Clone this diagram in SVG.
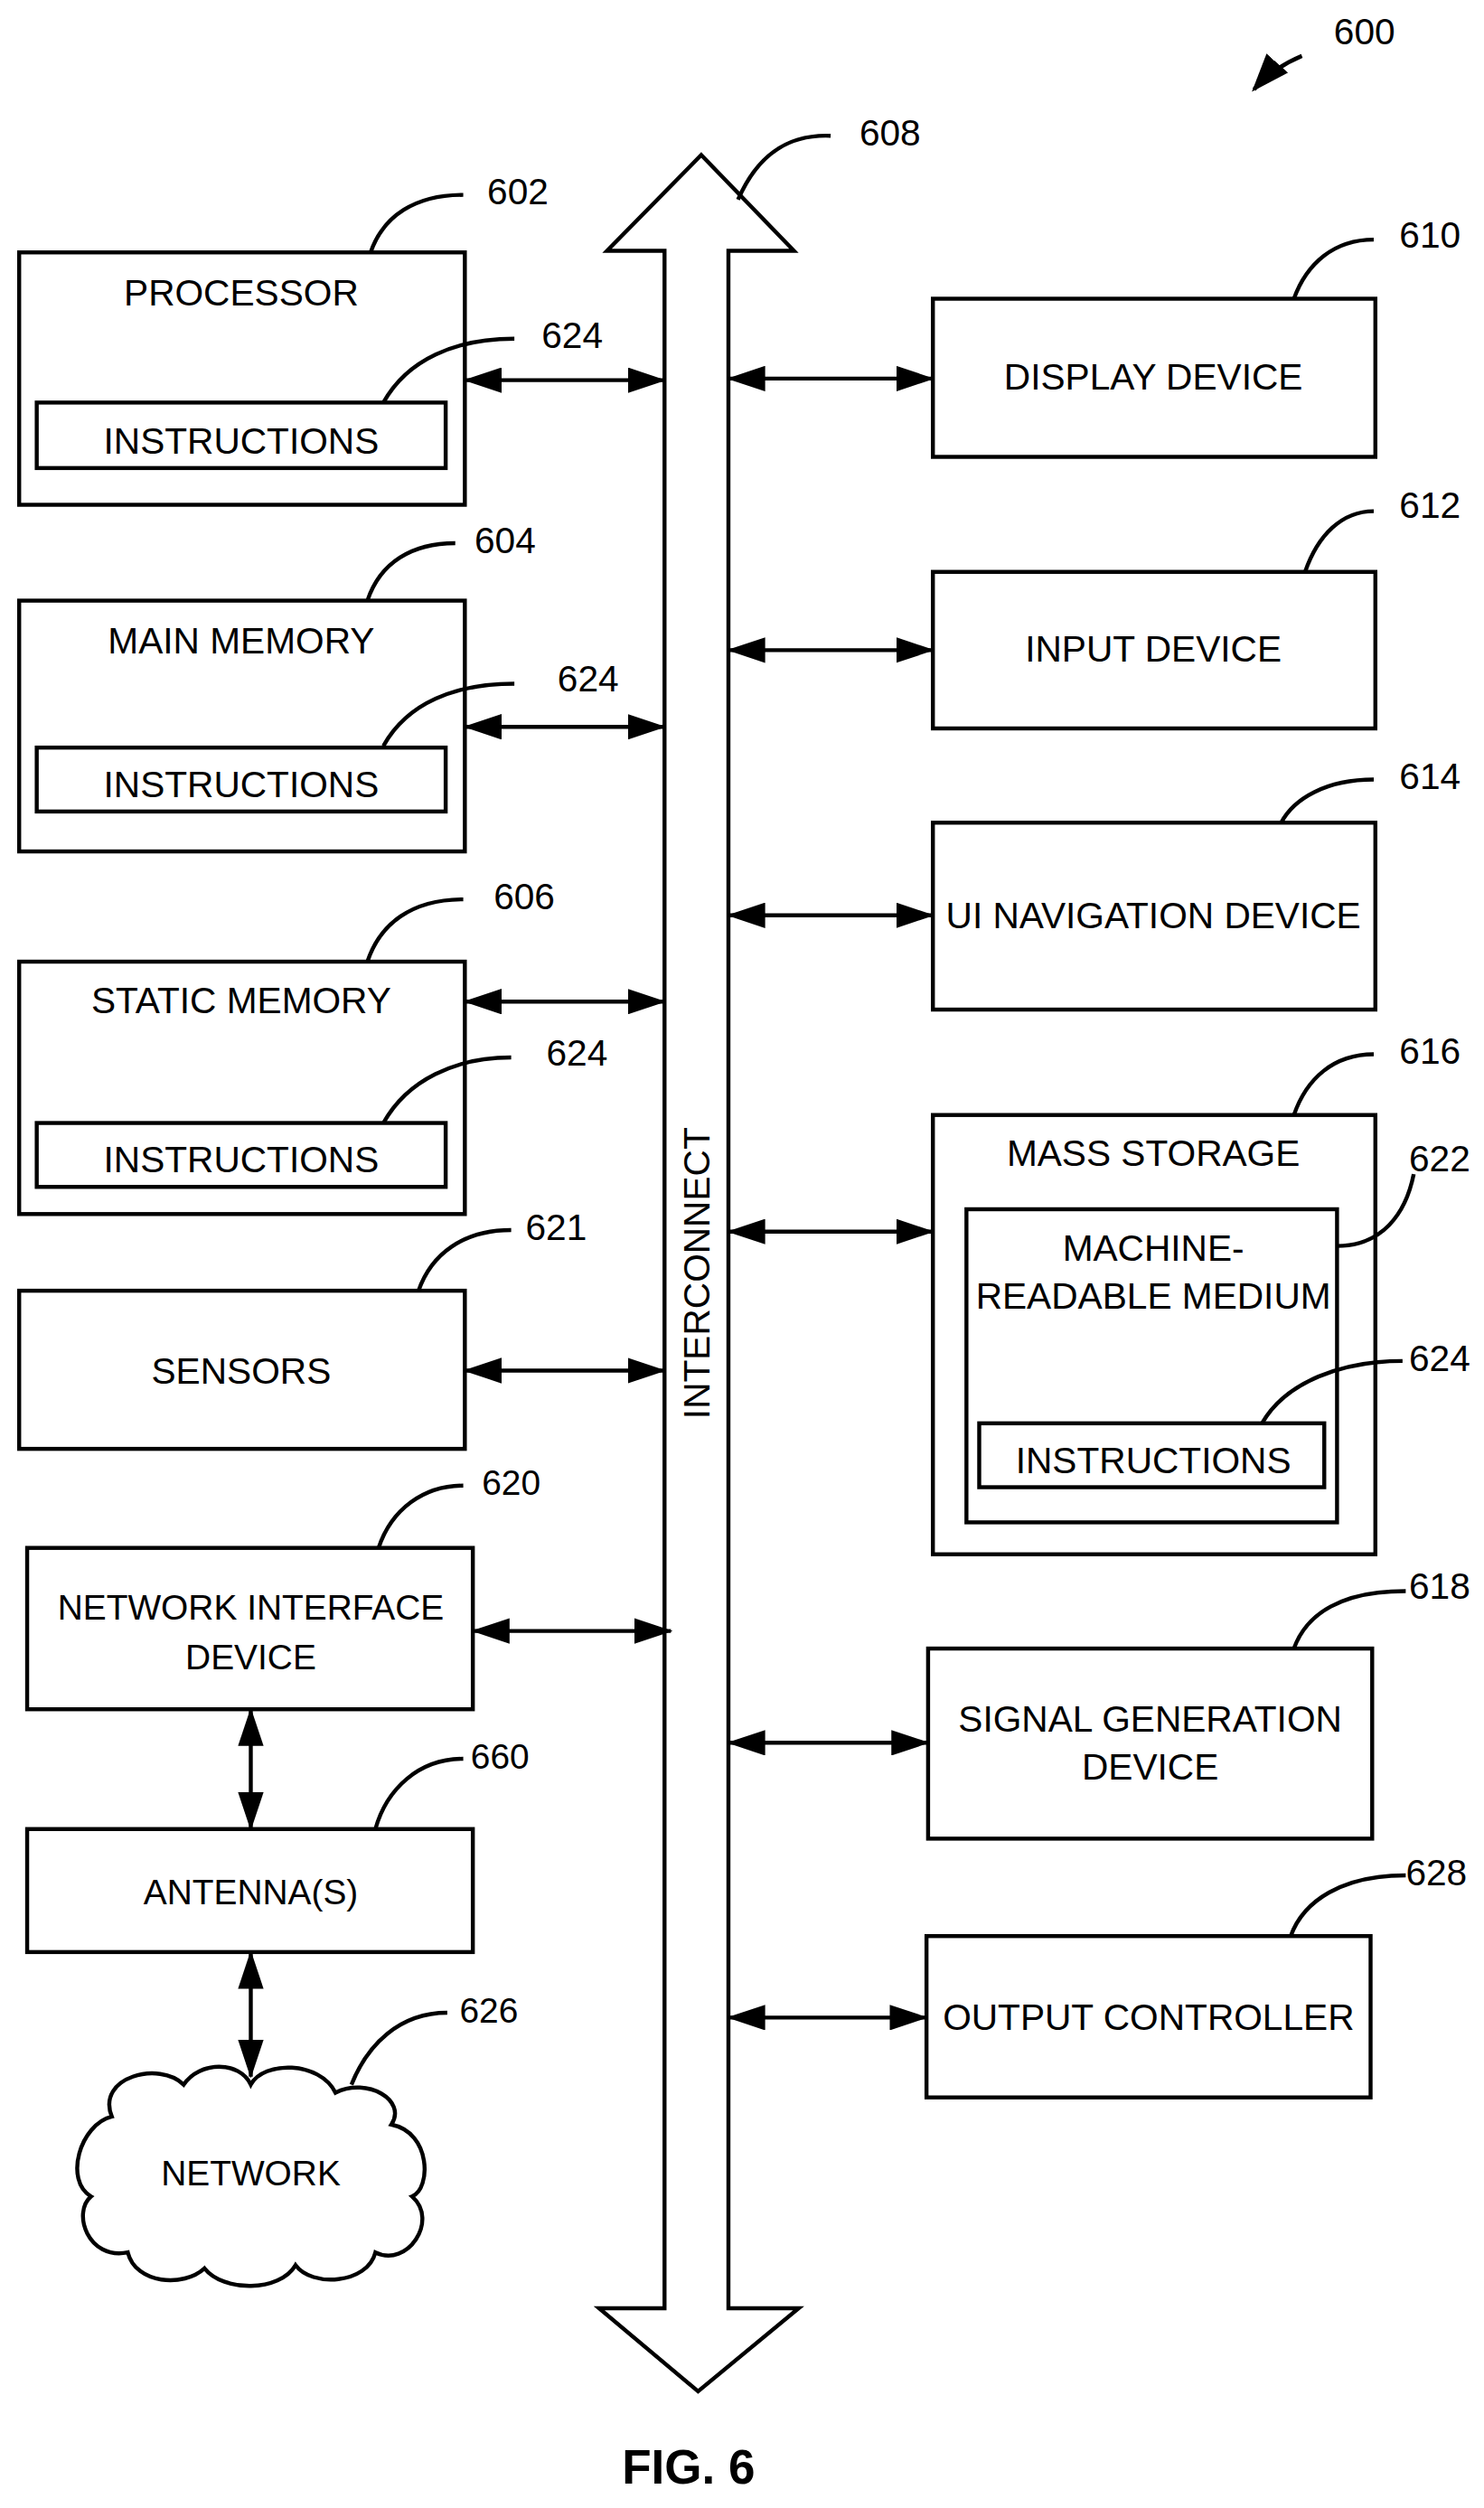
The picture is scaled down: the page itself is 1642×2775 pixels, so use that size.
<svg xmlns="http://www.w3.org/2000/svg" width="1642" height="2775" viewBox="0 0 1642 2775">
<style>
.b{fill:#fff;stroke:#000;stroke-width:2.5}
.t{font-family:"Liberation Sans Narrow","Liberation Sans",Arial,sans-serif;font-size:23px;text-anchor:middle;fill:#000}
.w{font-family:"Liberation Sans",Arial,sans-serif;font-size:22px;text-anchor:middle;fill:#000}
.n{font-family:"Liberation Sans Narrow","Liberation Sans",Arial,sans-serif;font-size:23px;fill:#000}
.l{fill:none;stroke:#000;stroke-width:2.5}
.c{fill:none;stroke:#000;stroke-width:2.5;marker-start:url(#a);marker-end:url(#a)}
</style>
<defs>
<marker id="a" viewBox="0 0 24 16" refX="23" refY="8" markerWidth="24" markerHeight="16" markerUnits="userSpaceOnUse" orient="auto-start-reverse"><path d="M0,0 L24,8 L0,16 Z" fill="#000"/></marker>
<marker id="h" viewBox="0 0 24 18" refX="22" refY="9" markerWidth="24" markerHeight="18" markerUnits="userSpaceOnUse" orient="auto"><path d="M0,0 L24,9 L0,18 Z" fill="#000"/></marker>
</defs>
<rect width="1642" height="2775" fill="#fff"/>
<g transform="scale(1.76749)">
<g id="bus">
<path class="b" d="M439,97 L497,157 L456,157 L456,1445 L500,1445 L437,1497 L375,1445 L416,1445 L416,157 L380,157 Z"/>
<text class="t" transform="translate(444,797) rotate(-90)">INTERCONNECT</text>
<path class="l" d="M462,125 C475,95 495,84 520,85"/><text class="n" x="538" y="91">608</text>
</g>
<g id="n600"><path class="l" d="M815,35 C803,40 793,47 785,56" marker-end="url(#h)"/><text class="n" x="835" y="28">600</text></g>
<g id="processor">
<rect class="b" x="12" y="158" width="279" height="158"/><text class="t" x="151" y="191">PROCESSOR</text>
<rect class="b" x="23" y="252" width="256" height="41"/><text class="t" x="151" y="284">INSTRUCTIONS</text>
<path class="l" d="M232,158 C240,135 260,122 290,122"/><text class="n" x="305" y="128">602</text>
<path class="l" d="M240,252 C255,225 285,212 322,212"/><text class="n" x="339" y="218">624</text>
</g>
<g id="mainmem">
<rect class="b" x="12" y="376" width="279" height="157"/><text class="t" x="151" y="409">MAIN MEMORY</text>
<rect class="b" x="23" y="468" width="256" height="40"/><text class="t" x="151" y="499">INSTRUCTIONS</text>
<path class="l" d="M230,376 C238,352 258,340 285,340"/><text class="n" x="297" y="346">604</text>
<path class="l" d="M240,467 C255,440 285,428 322,428"/><text class="n" x="349" y="433">624</text>
</g>
<g id="staticmem">
<rect class="b" x="12" y="602" width="279" height="158"/><text class="t" x="151" y="634">STATIC MEMORY</text>
<rect class="b" x="23" y="703" width="256" height="40"/><text class="t" x="151" y="734">INSTRUCTIONS</text>
<path class="l" d="M230,602 C238,578 258,563 290,563"/><text class="n" x="309" y="569">606</text>
<path class="l" d="M240,703 C255,676 285,662 320,662"/><text class="n" x="342" y="667">624</text>
</g>
<g id="sensors">
<rect class="b" x="12" y="808" width="279" height="99"/><text class="t" x="151" y="866">SENSORS</text>
<path class="l" d="M262,808 C270,785 290,770 320,770"/><text class="n" x="329" y="776">621</text>
</g>
<g id="nid">
<rect class="b" x="17" y="969" width="279" height="101"/><text class="w" x="157" y="1014">NETWORK INTERFACE</text><text class="w" x="157" y="1045">DEVICE</text>
<path class="l" d="M237,969 C245,945 265,930 290,930"/><text class="w" x="320" y="936">620</text>
</g>
<g id="antenna">
<rect class="b" x="17" y="1145" width="279" height="77"/><text class="w" x="157" y="1192">ANTENNA(S)</text>
<path class="l" d="M235,1145 C242,1120 262,1101 290,1101"/><text class="w" x="313" y="1107">660</text>
</g>
<g id="network">
<path class="b" d="M70,1325 C60,1300 100,1290 115,1305 C125,1290 150,1290 157,1305 C165,1290 200,1290 210,1310 C230,1300 255,1315 245,1330 C270,1335 270,1370 258,1375 C275,1390 255,1420 235,1410 C230,1430 195,1432 185,1418 C175,1435 140,1435 128,1420 C115,1432 85,1430 80,1410 C55,1415 45,1385 57,1375 C40,1365 50,1330 70,1325 Z"/>
<text class="w" x="157" y="1368">NETWORK</text>
<path class="l" d="M220,1305 C230,1280 250,1260 280,1260"/><text class="w" x="306" y="1266">626</text>
</g>
<g id="display">
<rect class="b" x="584" y="187" width="277" height="99"/><text class="t" x="722" y="244">DISPLAY DEVICE</text>
<path class="l" d="M810,187 C818,165 835,150 860,150"/><text class="n" x="876" y="155">610</text>
</g>
<g id="input">
<rect class="b" x="584" y="358" width="277" height="98"/><text class="t" x="722" y="414">INPUT DEVICE</text>
<path class="l" d="M817,358 C825,335 840,320 860,320"/><text class="n" x="876" y="324">612</text>
</g>
<g id="uinav">
<rect class="b" x="584" y="515" width="277" height="117"/><text class="t" x="722" y="581">UI NAVIGATION DEVICE</text>
<path class="l" d="M802,515 C810,500 830,488 860,488"/><text class="n" x="876" y="494">614</text>
</g>
<g id="mass">
<rect class="b" x="584" y="698" width="277" height="275"/><text class="t" x="722" y="730">MASS STORAGE</text>
<rect class="b" x="605" y="757" width="232" height="196"/><text class="t" x="722" y="789">MACHINE-</text><text class="t" x="722" y="819">READABLE MEDIUM</text>
<rect class="b" x="613" y="891" width="216" height="40"/><text class="t" x="722" y="922">INSTRUCTIONS</text>
<path class="l" d="M810,698 C818,675 835,660 860,660"/><text class="n" x="876" y="666">616</text>
<path class="l" d="M837,780 C865,780 880,760 885,735"/><text class="n" x="882" y="733">622</text>
<path class="l" d="M790,891 C805,865 840,852 878,852"/><text class="n" x="882" y="858">624</text>
</g>
<g id="signal">
<rect class="b" x="581" y="1032" width="278" height="119"/><text class="t" x="720" y="1084">SIGNAL GENERATION</text><text class="t" x="720" y="1114">DEVICE</text>
<path class="l" d="M810,1032 C818,1010 840,996 880,996"/><text class="n" x="882" y="1001">618</text>
</g>
<g id="output">
<rect class="b" x="580" y="1212" width="278" height="101"/><text class="t" x="719" y="1271">OUTPUT CONTROLLER</text>
<path class="l" d="M808,1212 C816,1190 840,1174 880,1174"/><text class="n" x="880" y="1180">628</text>
</g>
<g id="connectors">
<path class="c" d="M291,238 L416,238"/>
<path class="c" d="M291,455 L416,455"/>
<path class="c" d="M291,627 L416,627"/>
<path class="c" d="M291,858 L416,858"/>
<path class="c" d="M296,1021 L420,1021"/>
<path class="c" d="M157,1070 L157,1145"/>
<path class="c" d="M157,1222 L157,1300"/>
<path class="c" d="M456,237 L584,237"/>
<path class="c" d="M456,407 L584,407"/>
<path class="c" d="M456,573 L584,573"/>
<path class="c" d="M456,771 L584,771"/>
<path class="c" d="M456,1091 L581,1091"/>
<path class="c" d="M456,1263 L580,1263"/>
</g>
<text x="431" y="1555" font-family="Liberation Sans,Arial,sans-serif" font-weight="bold" font-size="30" text-anchor="middle">FIG. 6</text>
</g>
</svg>
